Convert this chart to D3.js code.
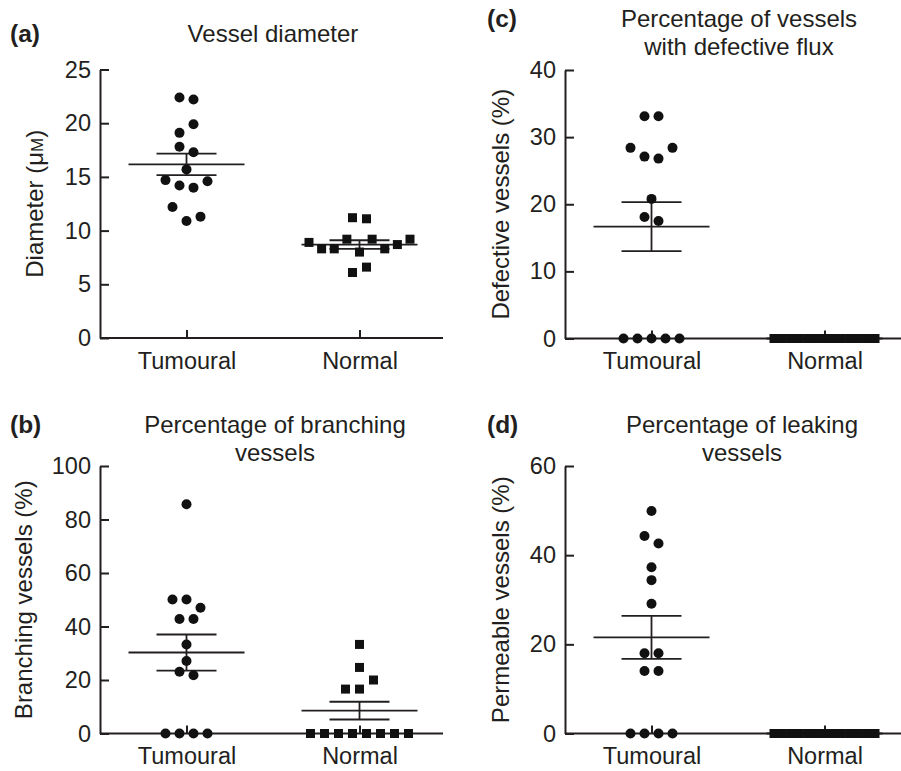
<!DOCTYPE html>
<html>
<head>
<meta charset="utf-8">
<script src="https://cdn.jsdelivr.net/npm/d3@7"></script>
<style>
  body { margin: 0; background: #fff; }
  text { font-family: "Liberation Sans", Arial, Helvetica, sans-serif; fill: #231f20; }
</style>
</head>
<body>
<div id="chart"></div>
<script>
// groups on the x axis
const groups = ['Tumoural', 'Normal']

// (a) vessel diameter, µM
const diameterTumoural = [22.4, 22.2, 19.1, 19.9, 17.8, 17.3, 15.7, 14.7, 14.2, 14.0, 14.6, 12.2, 10.9, 11.3]
const diameterNormal = [11.2, 11.1, 8.9, 8.3, 8.3, 9.2, 8.0, 9.2, 8.3, 8.7, 9.2, 6.1, 6.6]
const diameterTicks = [0, 5, 10, 15, 20, 25]

// (b) branching vessels, %
const branchingTumoural = [85.7, 50.1, 50.1, 47.0, 42.8, 42.8, 33.3, 27.1, 23.1, 21.8, 0, 0, 0, 0]
const branchingNormal = [33.3, 24.7, 16.6, 16.6, 20.0, 0, 0, 0, 0, 0, 0, 0, 0]
const branchingTicks = [0, 20, 40, 60, 80, 100]

// (c) vessels with defective flux, %
const defectiveTumoural = [33.1, 33.1, 28.4, 27.1, 26.8, 28.4, 20.8, 18.1, 17.5, 0, 0, 0, 0, 0]
const defectiveNormal = [0, 0, 0, 0, 0, 0, 0, 0, 0, 0, 0, 0, 0]
const defectiveTicks = [0, 10, 20, 30, 40]

// (d) leaking (permeable) vessels, %
const leakingTumoural = [49.9, 44.3, 42.6, 37.3, 34.4, 29.1, 18.0, 18.0, 14.0, 14.0, 0, 0, 0, 0]
const leakingNormal = [0, 0, 0, 0, 0, 0, 0, 0, 0, 0, 0, 0, 0]
const leakingTicks = [0, 20, 40, 60]

const W = 901
const H = 771
const ink = '#231f20'

const svg = d3.select('#chart')
  .append('svg')
    .attr('width', W)
    .attr('height', H)
    .style('display', 'block')

// simple dot-plot layout: points close in height share a row,
// rows are spread side by side around the group centre
function rowOffsets (values, y) {
  const step = 14
  const maxSpan = 101
  const order = values.map((v, i) => i).sort((a, b) => values[b] - values[a])
  const rows = []
  let cur = null
  let lastY = null
  order.forEach(i => {
    const py = y(values[i])
    if (cur && py - lastY <= 10.2) cur.push(i)
    else { cur = [i]; rows.push(cur) }
    lastY = py
  })
  const off = new Array(values.length)
  rows.forEach(r => {
    r.sort((a, b) => a - b)
    const s = r.length > 1 ? Math.min(step, maxSpan / (r.length - 1)) : 0
    r.forEach((i, k) => { off[i] = (k - (r.length - 1) / 2) * s })
  })
  return off
}

function drawPanel (p) {
  const g = svg.append('g')

  const x = d3.scalePoint()
    .domain(groups)
    .range([p.left, p.left + 346])
    .padding(0.5)

  const y = d3.scaleLinear()
    .domain([0, p.max])
    .range([p.bottom, p.top])

  // axes
  const yAxis = d3.axisLeft(y)
    .tickValues(p.ticks)
    .tickSizeInner(-9)
    .tickSizeOuter(0)
    .tickPadding(9)
  const xAxis = d3.axisBottom(x)
    .tickSizeInner(-8)
    .tickSizeOuter(0)
    .tickPadding(14)

  const ya = g.append('g')
    .attr('transform', `translate(${p.left},0)`)
    .call(yAxis)
  const xa = g.append('g')
    .attr('transform', `translate(0,${p.bottom})`)
    .call(xAxis)
  xa.select('.domain').attr('d', `M${p.left},0H${p.left + 343}`)

  for (const a of [ya, xa]) {
    a.attr('font-size', null).attr('font-family', null)
    a.selectAll('path, line').attr('stroke', ink).attr('stroke-width', 2)
    a.selectAll('text').attr('fill', ink).style('font-size', '23.5px')
  }

  // each group: points, mean line, SEM bars
  const series = [
    { key: 'Tumoural', values: p.tumoural, shape: 'circle' },
    { key: 'Normal', values: p.normal, shape: 'square' }
  ]
  series.forEach(s => {
    const cx = x(s.key)
    const off = rowOffsets(s.values, y)
    const n = s.values.length
    const mean = d3.mean(s.values)
    const sem = (d3.deviation(s.values) || 0) / Math.sqrt(n)

    const eb = g.append('g')
      .attr('stroke', ink)
      .attr('stroke-width', 1.8)
    eb.append('line')
      .attr('x1', cx - 58).attr('x2', cx + 58)
      .attr('y1', y(mean)).attr('y2', y(mean))
    eb.append('line')
      .attr('x1', cx).attr('x2', cx)
      .attr('y1', y(mean - sem)).attr('y2', y(mean + sem))
    for (const v of [mean - sem, mean + sem]) {
      eb.append('line')
        .attr('x1', cx - 30).attr('x2', cx + 30)
        .attr('y1', y(v)).attr('y2', y(v))
    }

    if (s.shape === 'circle') {
      g.selectAll(null)
        .data(s.values)
        .enter()
        .append('circle')
          .attr('cx', (d, i) => cx + off[i])
          .attr('cy', d => y(d))
          .attr('r', 5)
          .attr('fill', '#111')
    } else {
      g.selectAll(null)
        .data(s.values)
        .enter()
        .append('rect')
          .attr('x', (d, i) => cx + off[i] - 4.5)
          .attr('y', d => y(d) - 4.5)
          .attr('width', 9)
          .attr('height', 9)
          .attr('fill', '#111')
    }
  })

  // panel letter
  g.append('text')
    .attr('x', p.letterX)
    .attr('y', p.titleY)
    .attr('font-weight', 'bold')
    .style('font-size', '24.5px')
    .text(p.letter)

  // title
  p.title.forEach((t, i) => {
    g.append('text')
      .attr('x', p.titleX)
      .attr('y', p.titleY + i * 28)
      .attr('text-anchor', 'middle')
      .style('font-size', '24px')
      .text(t)
  })

  // y label
  const yl = g.append('text')
    .attr('transform', `translate(${p.labelX},${(p.top + p.bottom) / 2}) rotate(-90)`)
    .attr('text-anchor', 'middle')
    .style('font-size', '24px')
  if (p.ylabelUnit) {
    yl.append('tspan').text(p.ylabel)
    yl.append('tspan').style('font-size', '17px').text(p.ylabelUnit)
    yl.append('tspan').text(')')
  } else {
    yl.text(p.ylabel)
  }
}

drawPanel({
  letter: '(a)', title: ['Vessel diameter'], ylabel: 'Diameter (\u03bc', ylabelUnit: 'M',
  tumoural: diameterTumoural, normal: diameterNormal, ticks: diameterTicks, max: 25,
  left: 100, top: 69.5, bottom: 338, letterX: 10, titleX: 273, titleY: 42, labelX: 43
})
drawPanel({
  letter: '(b)', title: ['Percentage of branching', 'vessels'], ylabel: 'Branching vessels (%)',
  tumoural: branchingTumoural, normal: branchingNormal, ticks: branchingTicks, max: 100,
  left: 100, top: 466, bottom: 733.5, letterX: 10, titleX: 275, titleY: 433, labelX: 32
})
drawPanel({
  letter: '(c)', title: ['Percentage of vessels', 'with defective flux'], ylabel: 'Defective vessels (%)',
  tumoural: defectiveTumoural, normal: defectiveNormal, ticks: defectiveTicks, max: 40,
  left: 565, top: 70, bottom: 338.5, letterX: 487, titleX: 739, titleY: 27, labelX: 509
})
drawPanel({
  letter: '(d)', title: ['Percentage of leaking', 'vessels'], ylabel: 'Permeable vessels (%)',
  tumoural: leakingTumoural, normal: leakingNormal, ticks: leakingTicks, max: 60,
  left: 565, top: 466, bottom: 733.5, letterX: 487, titleX: 742, titleY: 433, labelX: 509
})
</script>
</body>
</html>
